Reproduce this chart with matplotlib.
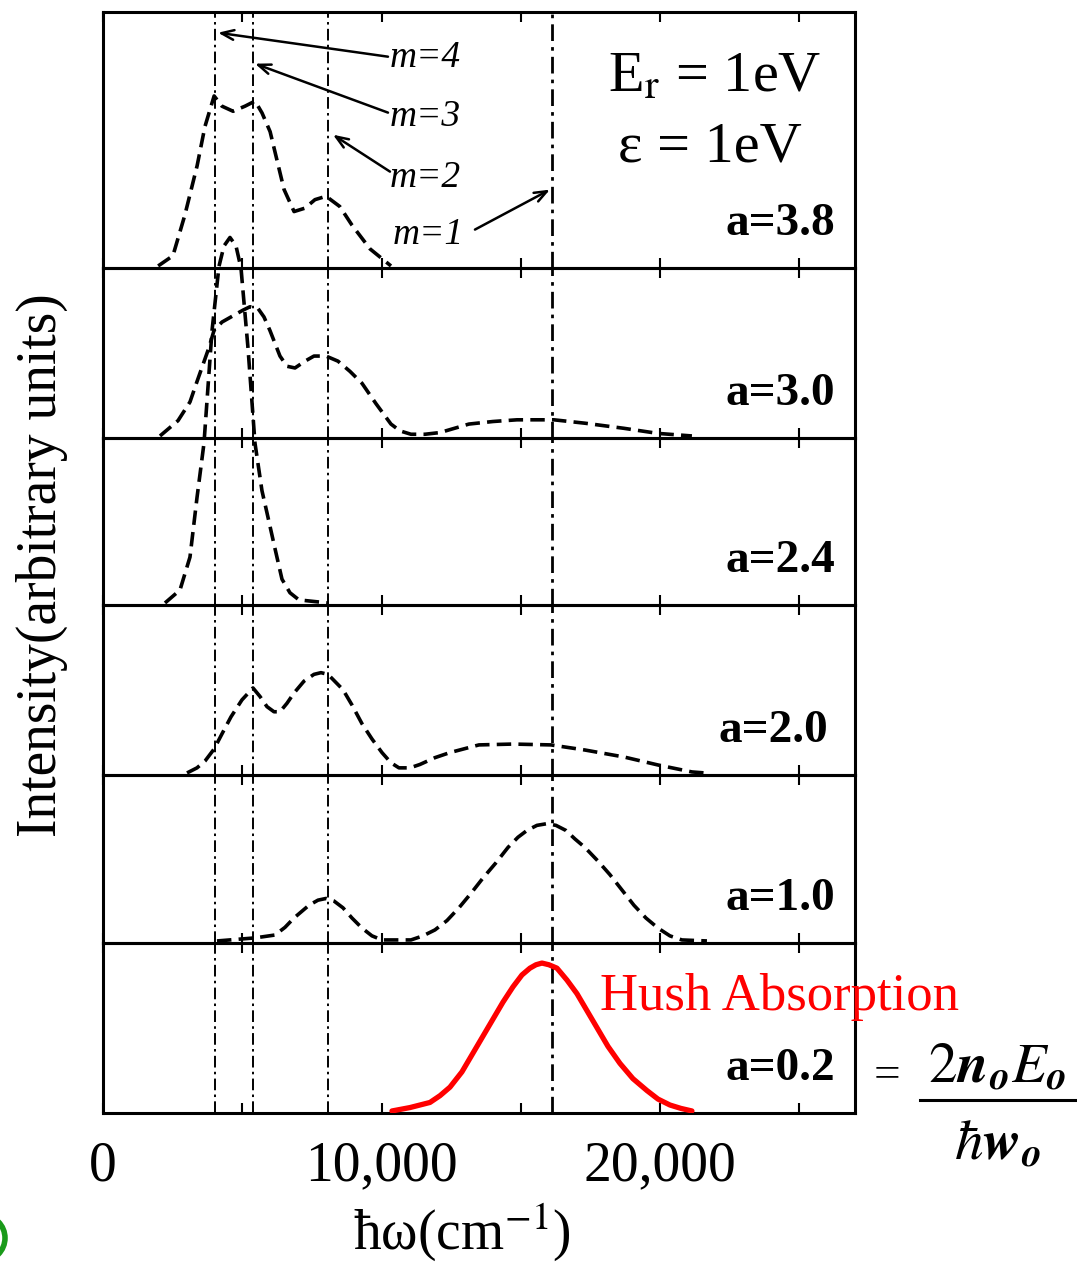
import matplotlib
matplotlib.use("Agg")
import matplotlib.pyplot as plt
from matplotlib.patches import Ellipse
from matplotlib.lines import Line2D

plt.rcParams['font.family'] = ['Liberation Serif', 'DejaVu Serif']
plt.rcParams['mathtext.fontset'] = 'stix'

# ---- data (x in cm^-1, intensity in arbitrary units) ----
labels = ["a=3.8", "a=3.0", "a=2.4", "a=2.0", "a=1.0", "a=0.2"]

x_38 = [1980, 2510, 2940, 3380, 3660, 3990, 4270, 4670, 5100, 5460, 5710, 6000,
        6500, 6860, 7250, 7610, 8010, 8500, 8940, 9590, 10340]
y_38 = [0, 0.06, 0.30, 0.59, 0.82, 1.00, 0.94, 0.91, 0.94, 0.97, 0.90, 0.79,
        0.45, 0.32, 0.34, 0.39, 0.41, 0.35, 0.24, 0.10, 0]

x_30 = [2046, 2693, 3123, 3375, 3805, 3985, 4272, 4595, 5026, 5277, 5565, 5780,
        5995, 6354, 6606, 6893, 7252, 7575, 8006, 8437, 8867, 9298, 9801, 10339,
        10662, 11057, 11560, 12098, 13139, 14001, 14863, 16191, 17304, 18704,
        19925, 21145]
y_30 = [0, 0.09, 0.20, 0.32, 0.52, 0.62, 0.67, 0.70, 0.74, 0.76, 0.75, 0.70,
        0.62, 0.47, 0.41, 0.40, 0.44, 0.47, 0.47, 0.44, 0.38, 0.31, 0.19, 0.07,
        0.03, 0.01, 0.01, 0.02, 0.07, 0.085, 0.095, 0.095, 0.075, 0.045,
        0.015, 0]

x_24 = [2226, 2764, 3123, 3375, 3626, 3913, 4164, 4344, 4559, 4775, 4954, 5206,
        5457, 5708, 5888, 6175, 6426, 6713, 7036, 8078]
y_24 = [0, 0.076, 0.27, 0.62, 0.94, 1.60, 1.98, 2.10, 2.15, 2.10, 1.97, 1.50,
        0.94, 0.66, 0.53, 0.32, 0.14, 0.06, 0.018, 0]

x_20 = [3016, 3375, 3662, 3985, 4272, 4595, 4990, 5385, 5636, 5888, 6139, 6354,
        6606, 6857, 7216, 7575, 7826, 8078, 8616, 8939, 9298, 9657, 10016, 10339,
        10626, 11021, 11380, 11919, 12457, 13498, 14719, 16083, 17304, 18704,
        19925, 21145, 21612]
y_20 = [0, 0.03, 0.07, 0.14, 0.23, 0.33, 0.43, 0.50, 0.45, 0.39, 0.36, 0.36,
        0.41, 0.47, 0.54, 0.58, 0.59, 0.58, 0.49, 0.40, 0.29, 0.20, 0.12, 0.06,
        0.03, 0.03, 0.05, 0.09, 0.12, 0.165, 0.17, 0.165, 0.135, 0.094,
        0.047, 0.006, 0]

x_10 = [4093, 5457, 6175, 6534, 6857, 7395, 7719, 8006, 8293, 8616, 8939, 9298,
        9657, 10016, 11057, 11488, 11919, 12350, 12780, 13211, 13642, 14109,
        14540, 14899, 15222, 15581, 15940, 16263, 16622, 16945, 17304, 17771,
        18201, 18632, 19063, 19494, 19925, 20355, 20786, 21684]
y_10 = [0, 0.018, 0.035, 0.08, 0.135, 0.21, 0.24, 0.25, 0.235, 0.195, 0.135, 0.076,
        0.03, 0.006, 0.006, 0.03, 0.065, 0.12, 0.195, 0.28, 0.37, 0.46,
        0.55, 0.61, 0.65, 0.68, 0.69, 0.68, 0.65, 0.60, 0.55, 0.47,
        0.39, 0.30, 0.21, 0.135, 0.076, 0.03, 0.006, 0]

x_02 = [10375, 11021, 11739, 12100, 12457, 12888, 13283, 13642, 14001, 14360,
        14719, 15042, 15329, 15545, 15760, 16011, 16299, 16658, 17017, 17376,
        17735, 18130, 18560, 19027, 19530, 19925, 20355, 20750, 21145]
y_02 = [0, 0.02, 0.05, 0.09, 0.14, 0.23, 0.34, 0.44, 0.54, 0.64,
        0.73, 0.80, 0.84, 0.86, 0.87, 0.86, 0.84, 0.77, 0.69, 0.59,
        0.49, 0.38, 0.28, 0.19, 0.12, 0.07, 0.035, 0.015, 0]

# Hush absorption (red overlay) follows the a=0.2 curve
hush_x = x_02
hush_y = y_02

curves_x = [x_38, x_30, x_24, x_20, x_10, x_02]
curves_y = [y_38, y_30, y_24, y_20, y_10, y_02]

# vibronic line positions m = 1..4  (2*E_r / m, E_r = 1 eV = 8066 cm^-1)
m_lines = [16132, 8066, 5377, 4033]
m_names = ["m=1", "m=2", "m=3", "m=4"]

# panel heights (pixels in the original), 170 px = 1 intensity unit
panel_h = [256, 170, 167, 170, 168, 170]

W, H = 1077, 1269
fig = plt.figure(figsize=(W / 100, H / 100), dpi=100)
gs = fig.add_gridspec(6, 1, left=103 / W, right=855 / W, top=1 - 12 / H,
                      bottom=1 - 1113 / H, hspace=0, height_ratios=panel_h)

b = 0.012
axes = []
for i in range(6):
    ax = fig.add_subplot(gs[i])
    ax.set_facecolor("none")
    ax.set_xlim(0, 27000)
    ax.set_ylim(-b, panel_h[i] / 170 - b)
    ax.set_yticks([])
    ax.set_xticks([0, 10000, 20000])
    ax.set_xticks([5000, 15000, 25000], minor=True)
    ax.tick_params(which="both", direction="in", top=True, bottom=True,
                   length=7, width=1.5, labelbottom=(i == 5),
                   labelsize=40, pad=20)
    for s in ax.spines.values():
        s.set_linewidth(2.2)
    for k, xm in enumerate(m_lines):
        ax.axvline(xm, color="black", lw=2.0 if k == 0 else 1.4,
                   dashes=(6, 2.2, 1.3, 2.2), zorder=1)
    ax.plot(curves_x[i], curves_y[i], color="black", lw=2.6, dashes=(4, 2),
            clip_on=(i != 2), zorder=3)
    ax.text(26280 if i != 3 else 26030, 44 / 170 - b, labels[i], fontsize=34,
            fontweight="bold", ha="right", va="center")
    axes.append(ax)

axes[5].set_xticklabels(["0", "10,000", "20,000"])
axes[5].plot(hush_x, hush_y, color="red", lw=3.8, zorder=4,
             solid_capstyle="round", solid_joinstyle="round")

# annotations in the top panel
ax1 = axes[0]
txt_pos = [(10411, 0.184), (10303, 0.519), (10303, 0.878), (10303, 1.225)]
tip_pos = [(16047, 0.449), (8257, 0.772), (5457, 1.19), (4129, 1.372)]
start_pos = [(13355, 0.214), (10303, 0.555), (10232, 0.902), (10232, 1.231)]
for name, tp, tip, st in zip(m_names, txt_pos, tip_pos, start_pos):
    ax1.text(tp[0], tp[1], name, fontsize=27, style="italic",
             ha="left", va="center")
    ax1.annotate("", xy=tip, xytext=st,
                 arrowprops=dict(arrowstyle="->,head_length=0.9,head_width=0.35",
                                 lw=1.8, color="black", shrinkA=0, shrinkB=0))

ax1.text(21971, 1.108, r"E$_\mathrm{r}$ = 1eV", fontsize=42, ha="center",
         va="center")
ax1.text(21791, 0.696, "ε = 1eV", fontsize=42, ha="center", va="center")

# axis labels
fig.text(42 / W, 1 - 565 / H, "Intensity(arbitrary units)", rotation=90,
         fontsize=40, ha="center", va="center")
fig.text(462 / W, 1 - 1232 / H, r"ħω(cm$^{-1}$)", fontsize=40,
         ha="center", va="center")

# Hush label and formula
fig.text(780 / W, 1 - 997 / H, "Hush Absorption", color="red", fontsize=38,
         ha="center", va="center")
fig.text(887 / W, 1 - 1076 / H, "=", fontsize=34, ha="center", va="center")
fig.text(997 / W, 1 - 1068 / H, r"$2\mathbfit{n}_{\mathbfit{o}}E_{\mathbfit{o}}$",
         fontsize=41, ha="center", va="center")
fig.text(997 / W, 1 - 1145 / H, r"$\hbar\mathbfit{w}_{\mathbfit{o}}$",
         fontsize=41, ha="center", va="center")
fig.add_artist(Line2D([920 / W, 1075 / W], [1 - 1100 / H, 1 - 1100 / H],
                      transform=fig.transFigure, color="black", lw=2.2))

# green mark at lower-left edge
fig.add_artist(Ellipse((-18 / W, 1 - 1238 / H), 46 / W, 46 / H,
                       transform=fig.transFigure, facecolor="none",
                       edgecolor="#1a9a1a", lw=4))

fig.savefig("out.png", dpi=100)
